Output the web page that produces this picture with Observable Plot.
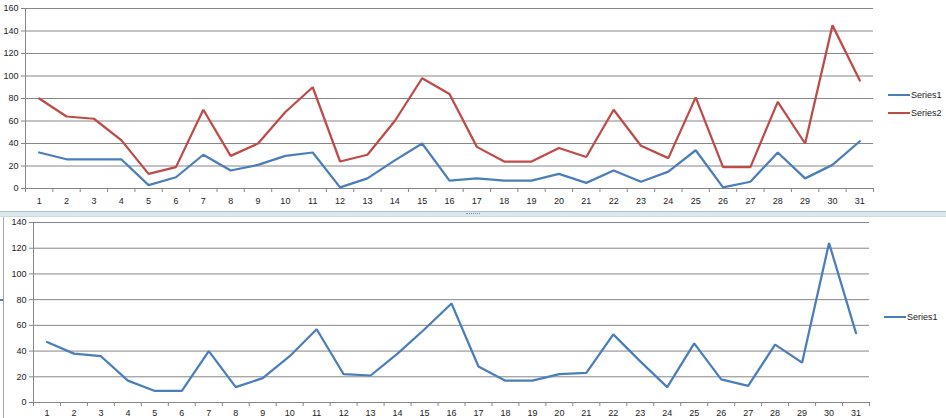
<!DOCTYPE html>
<html><head><meta charset="utf-8">
<script src="https://cdn.jsdelivr.net/npm/d3@7"></script>
<script src="https://cdn.jsdelivr.net/npm/@observablehq/plot@0.6"></script>
<style>
body{margin:0;background:#fff;width:946px;height:418px;overflow:hidden;position:relative;font-family:"Liberation Sans",Arial,sans-serif}
.abs{position:absolute}
.leg{position:absolute;font-size:9px;color:#222;display:flex;align-items:center;white-space:nowrap}
.leg span.sw{display:inline-block;width:22px;height:0;border-top:2.25px solid;margin-right:1px}
</style></head><body>
<div id="top" class="abs" style="left:0;top:0"></div>
<div class="abs" style="left:0;top:211px;width:946px;height:4px;background:#dde8ec;border-top:1px solid #a9c1ca;border-bottom:1px solid #cddbe0"></div>
<div class="abs" style="left:466px;top:213px;width:14px;height:0;border-top:1px dotted #7895a0"></div>
<div id="bottom" class="abs" style="left:0;top:217px"></div>
<div class="abs" style="left:3px;top:217px;width:0;height:201px;border-left:1px solid #a6a6a6"></div>
<div class="abs" style="left:0;top:299px;width:3px;height:0;border-top:2px solid #4a7ebb"></div>
<div class="leg" style="left:888px;top:90px"><span class="sw" style="border-color:#4a7ebb"></span>Series1</div>
<div class="leg" style="left:888px;top:108px"><span class="sw" style="border-color:#be4b48"></span>Series2</div>
<div class="leg" style="left:884px;top:312px"><span class="sw" style="border-color:#4a7ebb"></span>Series1</div>
<script>
const days = [1,2,3,4,5,6,7,8,9,10,11,12,13,14,15,16,17,18,19,20,21,22,23,24,25,26,27,28,29,30,31];
const topSeries1 = [32,26,26,26,3,10,30,16,21,29,32,1,9,25,40,7,9,7,7,13,5,16,6,15,34,1,6,32,9,21,42];
const topSeries2 = [80,64,62,43,13,19,70,29,40,68,90,24,30,60,98,84,37,24,24,36,28,70,38,27,81,19,19,77,40,145,96];
const bottomSeries1 = [47,38,36,17,9,9,40,12,19,36,57,22,21,38,57,77,28,17,17,22,23,53,32,12,46,18,13,45,31,124,54];
const topYTicks = [0,20,40,60,80,100,120,140,160];
const bottomYTicks = [0,20,40,60,80,100,120,140];

const gridColor = "#868686";
const blue = "#4a7ebb", red = "#be4b48";

function panel(series, yTicks, opts) {
  const boundaries = [days[0] - 0.5, ...days.map(d => d + 0.5)];
  const yMax = yTicks[yTicks.length - 1];
  const marks = [
    Plot.gridY({ticks: yTicks.filter(t => t > 0), stroke: gridColor, strokeOpacity: 1}),
    Plot.axisX({ticks: boundaries, tickSize: 4, tickFormat: () => "", label: null, stroke: gridColor, strokeOpacity: 1}),
    Plot.axisX({ticks: days, tickSize: 0, tickPadding: opts.xpad, label: null, tickFormat: d => String(d)}),
    Plot.axisY({ticks: yTicks, tickSize: 4, tickPadding: 3, label: null, stroke: gridColor, strokeOpacity: 1}),
    Plot.ruleY([0], {stroke: gridColor}),
    Plot.ruleX([boundaries[0]], {stroke: gridColor})
  ];
  for (const s of series) {
    const rows = days.map((d, i) => ({day: d, v: s.values[i]}));
    marks.push(Plot.line(rows, {x: "day", y: "v", stroke: s.color, strokeWidth: 2.25, strokeLinejoin: "miter"}));
  }
  return Plot.plot({
    width: 946, height: opts.height,
    marginLeft: opts.ml, marginRight: opts.mr, marginTop: opts.mt, marginBottom: opts.mb,
    x: {type: "linear", domain: [boundaries[0], boundaries[boundaries.length - 1]], axis: null, label: null},
    y: {domain: [0, yMax], axis: null, label: null},
    style: {fontFamily: '"Liberation Sans", Arial, sans-serif', fontSize: "9px", color: "#222", background: "transparent", overflow: "visible"},
    marks
  });
}

document.getElementById("top").append(panel(
  [{values: topSeries1, color: blue}, {values: topSeries2, color: red}],
  topYTicks, {height: 211, ml: 25, mr: 73, mt: 8, mb: 23, xpad: 9}));
document.getElementById("bottom").append(panel(
  [{values: bottomSeries1, color: blue}],
  bottomYTicks, {height: 201, ml: 33, mr: 77, mt: 5, mb: 16, xpad: 7}));
</script>
</body></html>
